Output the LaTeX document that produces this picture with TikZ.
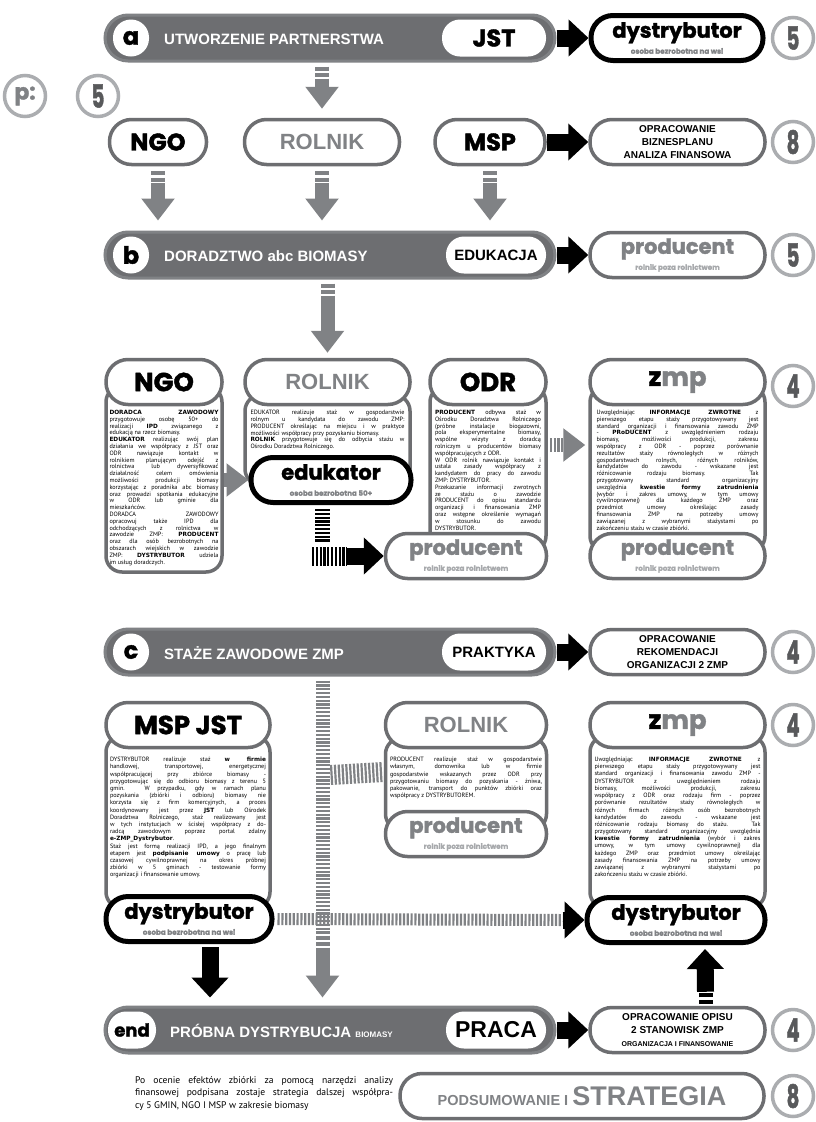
\documentclass[tikz,border=0pt]{standalone}
\usepackage{fontspec}
\usepackage{graphicx}
\setmainfont{PT Sans}
\newfontfamily\hd{Liberation Sans}
\newfontfamily\wide{DejaVu Sans}
\newfontfamily\disp{Poppins}[BoldFeatures={FakeBold=1.6}]
\usetikzlibrary{arrows.meta,calc}
\definecolor{barfill}{HTML}{6D6E71}
\definecolor{barline}{HTML}{808285}
\definecolor{edge}{HTML}{6D6E71}
\definecolor{ringgray}{HTML}{ABADB0}
\definecolor{digit}{HTML}{58595B}
\definecolor{midgray}{HTML}{808285}
\definecolor{lightgray}{HTML}{A7A9AC}
\setlength{\parindent}{0pt}
\tolerance=10000
\hyphenpenalty=10000
\newcommand{\jl}{\linebreak}
\newcommand{\B}[1]{{\wide\bfseries\fontsize{5.8}{6.8}\selectfont #1}}
\newcommand{\dnum}[1]{\scalebox{0.62}[1]{\disp\bfseries\fontsize{32}{32}\selectfont\color{digit}#1}}
\newcommand{\twoline}[4]{{\disp\bfseries\fontsize{21}{21}\selectfont\color{#3}#1}\\{\disp\bfseries\fontsize{7.2}{7.2}\selectfont\color{#4}#2}}
\begin{document}
\begin{tikzpicture}[x=1pt,y=-1pt,
  bar/.style={draw=barline, fill=barfill, line width=3pt, rounded corners=23pt,
    minimum width=450pt, minimum height=46pt, inner sep=0pt},
  slot/.style={fill=white, rounded corners=18pt, minimum height=37pt, inner sep=0pt},
  slotword/.style={slot, font=\hd\bfseries\fontsize{#1}{#1}\selectfont},
  bartitle/.style={anchor=west, text=white, font=\hd\bfseries\fontsize{15}{15}\selectfont, inner sep=0pt},
  disp/.style={font=\disp\bfseries\fontsize{#1}{#1}\selectfont},
  pill/.style={fill=white, draw=edge, line width=3.5pt, rounded corners=22pt,
    minimum height=45pt, inner sep=0pt, align=center, font=\fontsize{7.2}{16}\selectfont},
  graytitle/.style={pill, font=\hd\bfseries\fontsize{22}{22}\selectfont, text=midgray},
  blackpill/.style={pill, draw=black, line width=5pt},
  infopill/.style={pill, font=\hd\bfseries\fontsize{10}{12.6}\selectfont},
  body/.style={fill=white, draw=edge, line width=3.5pt, rounded corners=16pt, inner sep=0pt},
  numring/.style={circle, fill=white, draw=ringgray, line width=3.5pt, minimum size=41pt, inner sep=0pt},
  btext/.style={anchor=north, align=justify, inner sep=0pt, font=\fontsize{6.2}{6.8}\selectfont},
  btextlow/.style={btext, font=\fontsize{6.2}{7.2}\selectfont},
  toarrow/.style={draw=black, line width=17pt, -{Triangle[width=36pt,length=20pt]}},
  grayarrow/.style={draw=midgray, line width=14pt, -{Triangle[width=32pt,length=22pt]}},
  stubs/.style={draw=midgray, line width=14pt, dash pattern=on 4pt off 2.5pt},
  stripes/.style={line width=#1, dash pattern=on 2.2pt off 1.6pt}
]
\useasboundingbox (0,0) rectangle (815,1122);
\fill[white] (0,0) rectangle (815,1122);

% ---------------- phase counter
\node[numring] (pp) at (25,96) {\disp\bfseries\fontsize{22}{22}\selectfont\color{midgray}p:};
\node[numring] (p5) at (98,96) {\dnum{5}};

% ---------------- stage a
\node[bar] (barA) at (330,38) {};
\node[slot, minimum width=36pt, disp=24] (la) at (131,38) {a};
\node[bartitle] (ta) at (164,39) {UTWORZENIE PARTNERSTWA};
\node[slot, minimum width=104pt, disp=24] (jst) at (494,38) {JST};
\node[blackpill, minimum width=172pt] (dys1) at (677,38) {\twoline{dystrybutor}{osoba bezrobotna na wsi}{black}{midgray}};
\draw[toarrow] (barA.east) -- (dys1.west);
\node[numring] (n1) at (793,38) {\dnum{5}};

% ---------------- partners
\node[pill, minimum width=97pt, disp=24] (ngo1) at (158,142) {NGO};
\node[graytitle, minimum width=155pt] (rol1) at (322,142) {ROLNIK};
\node[pill, minimum width=110pt, disp=24] (msp1) at (490,142) {MSP};
\node[infopill, minimum width=175pt] (opr1) at (677.5,142) {OPRACOWANIE\\BIZNESPLANU\\ANALIZA FINANSOWA};
\draw[toarrow] (msp1.east) -- (opr1.west);
\node[numring] (n2) at (793,142) {\dnum{8}};

\draw[stubs] ($(rol1.north |- barA.south)+(0,4)$) -- ++(0,12);
\draw[grayarrow] ($(rol1.north |- barA.south)+(0,16)$) -- ($(rol1.north)+(0,-9)$);

% ---------------- stage b
\node[bar] (barB) at (330,255) {};
\node[slot, minimum width=36pt, disp=24] (lb) at (131,255) {b};
\node[bartitle] (tb) at (164,256) {DORADZTWO abc BIOMASY};
\node[slotword=15, minimum width=100pt] (edu) at (496,255) {EDUKACJA};
\node[pill, minimum width=175pt] (prod0) at (677.5,255) {\twoline{producent}{rolnik poza rolnictwem}{midgray}{lightgray}};
\draw[toarrow] (barB.east) -- (prod0.west);
\node[numring] (n3) at (793,255) {\dnum{5}};

\foreach \n in {ngo1,rol1,msp1}{
  \draw[stubs] ($(\n.south)+(0,5)$) -- ++(0,12);
  \draw[grayarrow] ($(\n.south)+(0,17)$) -- ($(\n.south |- barB.north)+(0,-10)$);
}

% ---------------- first internships: bodies
\node[body, minimum width=116pt, minimum height=186pt] (ngob) at (164,479) {};
\node[body, minimum width=165pt, minimum height=90pt] (rolb) at (327.5,440) {};
\node[body, minimum width=116pt, minimum height=166pt] (odrb) at (488,469) {};
\node[body, minimum width=175pt, minimum height=166pt] (zmpb) at (677.5,469) {};

\node[pill, minimum width=116pt, disp=26] (ngo2) at (164,382) {NGO};
\node[graytitle, minimum width=165pt] (rol2) at (327.5,382) {ROLNIK};
\node[pill, minimum width=116pt, disp=26] (odr2) at (488,382) {ODR};
\node[pill, minimum width=175pt, disp=26] (zmp2) at (677.5,382) {z{\color{midgray}mp}};
\node[numring] (n4) at (793,386) {\dnum{4}};

\draw[stubs] ($(rol2.north |- barB.south)+(0,4)$) -- ++(0,12);
\draw[grayarrow] ($(rol2.north |- barB.south)+(0,16)$) -- ($(rol2.north)+(0,-5)$);

\node[btext, text width=109pt] (ngot) at (164,410) {\B{DORADCA ZAWODOWY}\jl przygotowuje osobę 50+ do\jl realizacji \B{IPD} związanego z\jl edukacją na rzecz biomasy.\par
\B{EDUKATOR} realizując swój plan\jl działania we współpracy z JST oraz\jl ODR nawiązuje kontakt w\jl rolnikiem planującym odejść z\jl rolnictwa lub dywersyfikować\jl działalność celem omówienia\jl możliwości produkcji biomasy\jl korzystając z poradnika abc biomasy\jl oraz prowadzi spotkania edukacyjne\jl w ODR lub gminie dla\jl mieszkańców.\par
DORADCA ZAWODOWY\jl opracowuj także IPD dla\jl odchodzących z rolnictwa w\jl zawodzie ZMP: \B{PRODUCENT}\jl oraz dla osób bezrobotnych na\jl obszarach wiejskich w zawodzie\jl ZMP: \B{DYSTRYBUTOR} udziela\jl im usług doradczych.};

\node[btext, text width=154pt] (rolt) at (327.5,410) {EDUKATOR realizuje staż w gospodarstwie\jl rolnym u kandydata do zawodu ZMP:\jl PRODUCENT określając na miejscu i w praktyce\jl możliwości współpracy przy pozyskaniu biomasy.\par
\B{ROLNIK} przygotowuje się do odbycia stażu w\jl Ośrodku Doradztwa Rolniczego.};

\node[btext, text width=106pt] (odrt) at (488,410) {\B{PRODUCENT} odbywa staż w\jl Ośrodku Doradztwa Rolniczego\jl (próbne instalacje biogazowni,\jl pola eksperymentalne biomasy,\jl wspólne wizyty z doradcą\jl rolniczym u producentów biomasy\jl współpracujących z ODR.\par
W ODR rolnik nawiązuje kontakt i\jl ustala zasady współpracy z\jl kandydatem do pracy do zawodu\jl ZMP: DYSTRYBUTOR.\par
Przekazanie informacji zwrotnych\jl ze stażu o zawodzie\jl PRODUCENT do opisu standardu\jl organizacji i finansowania ZMP\jl oraz wstępne określenie wymagań\jl w stosunku do zawodu\jl DYSTRYBUTOR.};

\node[btext, text width=162pt] (zmpt) at (677.5,410) {Uwzględniając \B{INFORMACJE ZWROTNE} z\jl pierwszego etapu staży przygotowywany jest\jl standard organizacji i finansowania zawodu ZMP\jl - \B{PRoDUCENT} z uwzględnieniem rodzaju\jl biomasy, możliwości produkcji, zakresu\jl współpracy z ODR - poprzez porównanie\jl rezultatów staży równoległych w różnych\jl gospodarstwach rolnych, różnych rolników,\jl kandydatów do zawodu - wskazane jest\jl różnicowanie rodzaju biomasy. Tak\jl przygotowany standard organizacyjny\jl uwzględnia \B{kwestie formy zatrudnienia}\jl (wybór i zakres umowy, w tym umowy\jl cywilnoprawnej) dla każdego ZMP oraz\jl przedmiot umowy określając zasady\jl finansowania ZMP na potrzeby umowy\jl zawiązanej z wybranymi stażystami po\jl zakończeniu stażu w czasie zbiórki.};

\node[blackpill, minimum width=160pt, font=\fontsize{8}{16}\selectfont] (eduk) at (331,480) {\twoline{edukator}{osoba bezrobotna 50+}{black}{midgray}};
\node[pill, minimum width=161pt] (prod1) at (466,556) {\twoline{producent}{rolnik poza rolnictwem}{midgray}{lightgray}};
\node[pill, minimum width=175pt] (prod2) at (677.5,556) {\twoline{producent}{rolnik poza rolnictwem}{midgray}{lightgray}};

\draw[grayarrow] (ngob.east |- eduk.west) -- (eduk.west);
\draw[stripes=15pt, draw=black] ($(eduk.south)+(-9,4)$) -- ($(eduk.south |- prod1.west)+(-9,-14)$);
\draw[stripes=19pt, draw=black] ($(eduk.south |- prod1.west)+(-19,0)$) -- ($(eduk.south |- prod1.west)+(16,0)$);
\draw[toarrow] ($(eduk.south |- prod1.west)+(16,0)$) -- (prod1.west);
\draw[stripes=14pt, draw=midgray] ($(odrb.east)+(2,-24)$) -- ++(18,0);
\draw[grayarrow] ($(odrb.east)+(20,-24)$) -- ($(zmpb.west)+(-3,-24)$);

% ---------------- stage c
\node[bar] (barC) at (330,652) {};
\node[slot, minimum width=36pt, disp=24] (lc) at (131,652) {c};
\node[bartitle] (tc) at (164,653) {STAŻE ZAWODOWE ZMP};
\node[slotword=15, minimum width=104pt] (prak) at (494,652) {PRAKTYKA};
\node[infopill, minimum width=175pt] (rek) at (677.5,652) {OPRACOWANIE\\REKOMENDACJI\\ORGANIZACJI 2 ZMP};
\draw[toarrow] (barC.east) -- (rek.west);
\node[numring] (n5) at (793,652) {\dnum{4}};

% ---------------- second internships: bodies
\node[body, minimum width=164pt, minimum height=172pt] (mspb) at (188,822) {};
\node[body, minimum width=161pt, minimum height=92pt] (rol3b) at (466,784) {};
\node[body, minimum width=175pt, minimum height=172pt] (zmp3b) at (677.5,822) {};

\node[pill, minimum width=164pt, disp=26] (mspjst) at (188,725) {MSP JST};
\node[graytitle, minimum width=161pt] (rol3) at (466,725) {ROLNIK};
\node[pill, minimum width=175pt, disp=26] (zmp3) at (677.5,725) {z{\color{midgray}mp}};
\node[numring] (n6) at (793,725) {\dnum{4}};

\node[btextlow, text width=156pt] (mspt) at (188,757) {DYSTRYBUTOR realizuje staż \B{w firmie}\jl handlowej, transportowej, energetycznej\jl współpracującej przy zbiórce biomasy -\jl przygotowując się do odbioru biomasy z terenu 5\jl gmin. W przypadku, gdy w ramach planu\jl pozyskania (zbiórki i odbioru) biomasy nie\jl korzysta się z firm komercyjnych, a proces\jl koordynowany jest przez \B{JST} lub Ośrodek\jl Doradztwa Rolniczego, staż realizowany jest\jl w tych instytucjach w ścisłej współpracy z do-\jl radcą zawodowym poprzez portal zdalny\jl \B{e-ZMP\_Dystrybutor}.\par
Staż jest formą realizacji IPD, a jego finalnym\jl etapem jest \B{podpisanie umowy} o pracę lub\jl czasowej cywilnoprawnej na okres próbnej\jl zbiórki w 5 gminach - testowanie formy\jl organizacji i finansowanie umowy.};

\node[btextlow, text width=152pt] (rol3t) at (466,757) {PRODUCENT realizuje staż w gospodarstwie\jl własnym, domownika lub w firmie\jl gospodarstwie wskazanych przez ODR przy\jl przygotowaniu biomasy do pozyskania - żniwa,\jl pakowanie, transport do punktów zbiórki oraz\jl współpracy z DYSTRYBUTOREM.};

\node[btextlow, text width=166pt] (zmp3t) at (677.5,757) {Uwzględniając \B{INFORMACJE ZWROTNE} z\jl pierwszego etapu staży przygotowywany jest\jl standard organizacji i finansowania zawodu ZMP -\jl DYSTRYBUTOR z uwzględnieniem rodzaju\jl biomasy, możliwości produkcji, zakresu\jl współpracy z ODR oraz rodzaju firm - poprzez\jl porównanie rezultatów staży równoległych w\jl różnych firmach różnych osób bezrobotnych\jl kandydatów do zawodu - wskazane jest\jl różnicowanie rodzaju biomasy do stażu. Tak\jl przygotowany standard organizacyjny uwzględnia\jl \B{kwestie formy zatrudnienia} (wybór i zakres\jl umowy, w tym umowy cywilnoprawnej) dla\jl każdego ZMP oraz przedmiot umowy określając\jl zasady finansowania ZMP na potrzeby umowy\jl zawiązanej z wybranymi stażystami po\jl zakończeniu stażu w czasie zbiórki.};

\node[blackpill, minimum width=166pt] (dys2) at (189,919) {\twoline{dystrybutor}{osoba bezrobotna na wsi}{black}{midgray}};
\node[pill, minimum width=161pt] (prod3) at (466,834) {\twoline{producent}{rolnik poza rolnictwem}{midgray}{lightgray}};
\node[blackpill, minimum width=178pt] (dys3) at (676,920) {\twoline{dystrybutor}{osoba bezrobotna na wsi}{black}{midgray}};

% ---------------- stage end
\node[bar] (barE) at (330,1030) {};
\node[slot, minimum width=48pt, disp=18] (le) at (132,1030) {end};
\node[bartitle] (te) at (170,1031) {PRÓBNA DYSTRYBUCJA {\fontsize{8}{8}\selectfont BIOMASY}};
\node[slotword=23, minimum width=100pt] (praca) at (496,1030) {PRACA};
\node[infopill, minimum width=175pt] (opis) at (677.5,1030) {OPRACOWANIE OPISU\\2 STANOWISK ZMP\\{\fontsize{7}{7}\selectfont ORGANIZACJA I FINANSOWANIE}};
\draw[toarrow] (barE.east) -- (opis.west);
\node[numring] (n7) at (793,1030) {\dnum{4}};

% connectors of stage c and the final stage
\coordinate (spine) at ($(rol2.south |- barC.south)+(-5,4)$);
\draw[stripes=14pt, draw=midgray] (spine) -- ($(spine |- barE.north)+(0,-72)$);
\draw[stubs] ($(spine |- barE.north)+(0,-70)$) -- ++(0,12);
\draw[grayarrow] ($(spine |- barE.north)+(0,-58)$) -- ($(spine |- barE.north)+(0,-8)$);
\draw[stripes=20pt, draw=midgray] ($(spine |- rol3t.north)+(8,18)$) -- ($(rol3b.west)+(-1,-12)$);
\draw[stripes=12pt, draw=midgray] ($(dys2.east)+(3,0)$) -- ($(dys3.west)+(-22,0)$);
\draw[toarrow] ($(dys3.west)+(-22,0)$) -- (dys3.west);
\draw[toarrow] ($(dys2.south)+(21,3)$) -- ($(dys2.south |- barE.north)+(21,-8)$);
\draw[draw=black, line width=14pt, dash pattern=on 4pt off 2.5pt] ($(opis.north)+(28,-2)$) -- ++(0,-12);
\draw[toarrow] ($(opis.north)+(28,-14)$) -- ($(dys3.south)+(29,4)$);

% ---------------- summary
\node[anchor=north west, align=justify, text width=258pt, inner sep=0pt, font=\fontsize{9.6}{12.5}\selectfont] (summary) at (135,1076) {Po ocenie efektów zbiórki za pomocą narzędzi analizy\jl finansowej podpisana zostaje strategia dalszej współpra-\jl cy 5 GMIN, NGO I MSP w zakresie biomasy};
\node[pill, minimum width=364pt, text=midgray, font=\hd\bfseries] (strat) at (582,1096) {{\fontsize{14.5}{14.5}\selectfont PODSUMOWANIE I }{\fontsize{27}{27}\selectfont STRATEGIA}};
\node[numring] (n8) at (793,1096) {\dnum{8}};
\end{tikzpicture}
\end{document}
